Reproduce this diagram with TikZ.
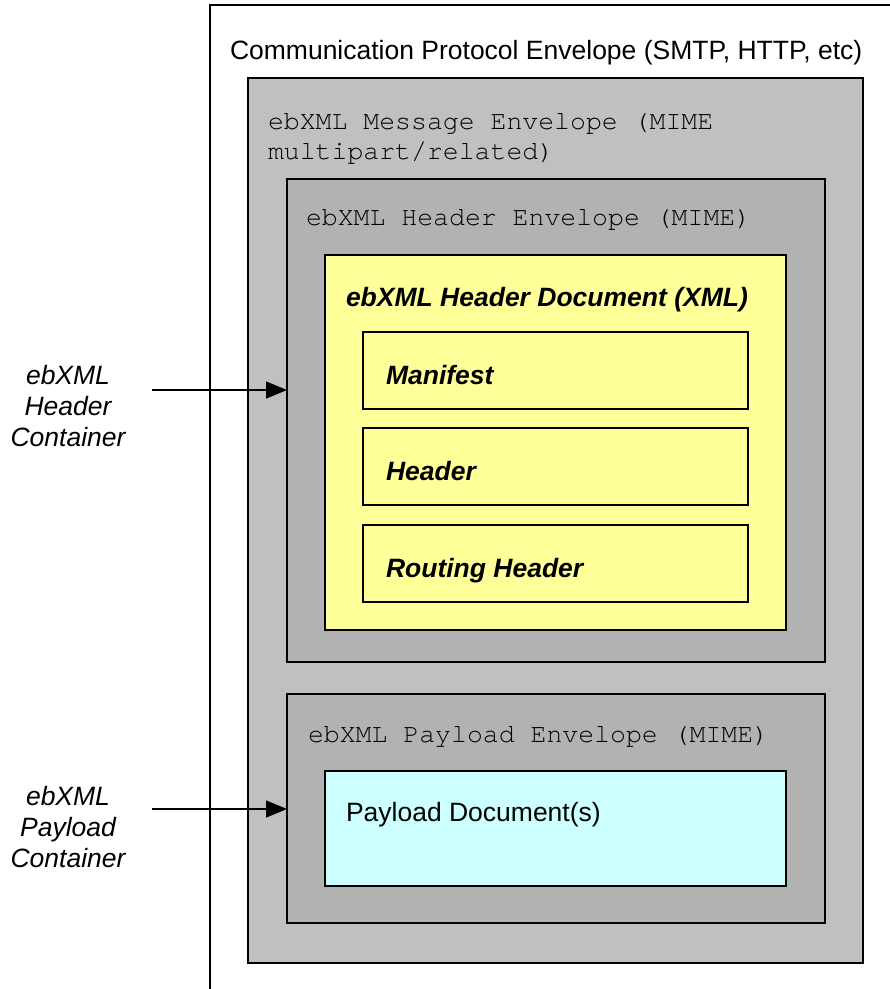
\documentclass[tikz,border=0pt]{standalone}
\usepackage{fontspec}
\setmainfont{Liberation Sans}
\setmonofont{TeX Gyre Cursor}
\usetikzlibrary{arrows.meta,positioning}

\definecolor{msggray}{HTML}{C0C0C0}
\definecolor{envgray}{HTML}{B2B2B2}
\definecolor{docyellow}{HTML}{FFFF99}
\definecolor{paycyan}{HTML}{CCFFFF}

\begin{document}
\begin{tikzpicture}[x=1pt,y=-1pt,
  every node/.style={inner sep=0pt,outer sep=0pt},
  frame/.style={draw=black,line width=1.5pt,rectangle,anchor=north west},
  label/.style={anchor=base west,font=\fontsize{26.5}{31}\selectfont},
  mono/.style={anchor=base west,font=\fontsize{26.5}{30}\selectfont\ttfamily},
  bi/.style={anchor=base west,font=\fontsize{26.5}{31}\selectfont\bfseries\itshape},
  side/.style={align=center,font=\fontsize{26.5}{31}\selectfont\itshape},
  arr/.style={draw=black,line width=1.3pt,-{Triangle[length=21pt,width=17pt]}}
]
\useasboundingbox (0,0) rectangle (890,989);

% outer communication envelope, running past the right and bottom edges
\begin{scope}
  \clip (0,0) rectangle (890,989);
  \node[frame,line width=1.2pt,minimum width=720pt,minimum height=1040pt] (comm) at (210,5) {};
\end{scope}
\node[label] (commtxt) at (230,59) {Communication Protocol Envelope (SMTP, HTTP, etc)};

% ebXML message envelope
\node[frame,fill=msggray,minimum width=615pt,minimum height=885pt] (msg) at (248,78) {};
\node[mono] (msgtxt1) at (268,129) {ebXML Message Envelope (MIME};
\node[mono] (msgtxt2) at (268,159) {multipart/related)};

% header envelope
\node[frame,fill=envgray,minimum width=538pt,minimum height=483pt] (hdrenv) at (287,179) {};
\node[mono] (hdrenvtxt) at (306,225) {ebXML Header Envelope (MIME)};

% header document
\node[frame,fill=docyellow,minimum width=461pt,minimum height=375pt] (hdrdoc) at (325,255) {};
\node[bi] (hdrdoctxt) at (346,306) {ebXML Header Document (XML)};

\node[frame,fill=docyellow,minimum width=385pt,minimum height=77pt] (manifest) at (363,332) {};
\node[bi] (manifesttxt) at (386,384) {Manifest};
\node[frame,fill=docyellow,minimum width=385pt,minimum height=77pt] (header) at (363,428) {};
\node[bi] (headertxt) at (386,480) {Header};
\node[frame,fill=docyellow,minimum width=385pt,minimum height=77pt] (routing) at (363,525) {};
\node[bi] (routingtxt) at (386,577) {Routing Header};

% payload envelope
\node[frame,fill=envgray,minimum width=538pt,minimum height=229pt] (payenv) at (287,694) {};
\node[mono] (payenvtxt) at (308,742) {ebXML Payload Envelope (MIME)};
\node[frame,fill=paycyan,minimum width=461pt,minimum height=115pt] (paydoc) at (325,771) {};
\node[label] (paydoctxt) at (346,821) {Payload Document(s)};

% container labels and pointers
\node[side] (hdrcont) at (68,406) {ebXML\\Header\\Container};
\node[side] (paycont) at (68,827) {ebXML\\Payload\\Container};
\coordinate (hdrstart) at (152,390);
\coordinate (paystart) at (152,809);
\draw[arr] (hdrstart) -- (hdrstart -| hdrenv.west);
\draw[arr] (paystart) -- (paystart -| payenv.west);
\end{tikzpicture}
\end{document}
